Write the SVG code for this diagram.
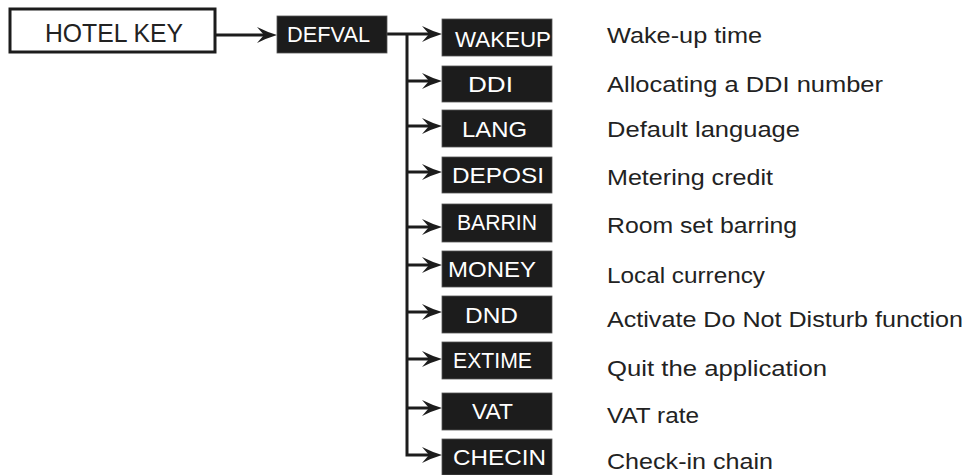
<svg xmlns="http://www.w3.org/2000/svg" width="966" height="475" viewBox="0 0 966 475">
<style>
.box{fill:#1c1c1c;stroke:#555;stroke-width:0.8}
.lbl{fill:#fff;font-family:"Liberation Sans",Arial,sans-serif;font-size:22px}
.desc{fill:#222;font-family:"Liberation Sans",Arial,sans-serif;font-size:22px}
.ln{fill:none;stroke:#1c1c1c;stroke-width:3}
</style>
<defs>
<marker id="arr" viewBox="-20 -8 20 16" refX="-10" refY="0" markerWidth="20" markerHeight="16" orient="auto" markerUnits="userSpaceOnUse">
<path d="M0,0 Q-10,-3 -20,-8 L-13,0 L-20,8 Q-10,3 0,0 Z" fill="#1c1c1c"/>
</marker>
</defs>
<g id="connectors">
<path class="ln" d="M216,35 H267" marker-end="url(#arr)"/>
<path class="ln" d="M387,34 H432" marker-end="url(#arr)"/>
<path class="ln" d="M407,34 V455 H432" marker-end="url(#arr)"/>
<path class="ln" d="M407,81 H432" marker-end="url(#arr)"/>
<path class="ln" d="M407,126 H432" marker-end="url(#arr)"/>
<path class="ln" d="M407,172 H432" marker-end="url(#arr)"/>
<path class="ln" d="M407,227 H432" marker-end="url(#arr)"/>
<path class="ln" d="M407,265 H432" marker-end="url(#arr)"/>
<path class="ln" d="M407,312 H432" marker-end="url(#arr)"/>
<path class="ln" d="M407,359 H432" marker-end="url(#arr)"/>
<path class="ln" d="M407,408 H432" marker-end="url(#arr)"/>
</g>
<g id="hotelkey">
<rect x="10" y="9" width="205" height="43" fill="#fff" stroke="#1c1c1c" stroke-width="3"/>
<text x="45" y="42" fill="#222" font-family="Liberation Sans, Arial, sans-serif" font-size="25" textLength="138" lengthAdjust="spacingAndGlyphs">HOTEL KEY</text>
</g>
<g id="defval">
<rect class="box" x="277" y="16" width="110" height="37"/>
<text class="lbl" x="287" y="42" font-size="23" textLength="83" lengthAdjust="spacingAndGlyphs">DEFVAL</text>
</g>
<g id="wakeup">
<rect class="box" x="442" y="19" width="110" height="37"/>
<text class="lbl" x="455" y="47" textLength="96" lengthAdjust="spacingAndGlyphs">WAKEUP</text>
<text class="desc" x="607" y="43" textLength="155" lengthAdjust="spacingAndGlyphs">Wake-up time</text>
</g>
<g id="ddi">
<rect class="box" x="442" y="66" width="110" height="36"/>
<text class="lbl" x="468" y="92" textLength="45" lengthAdjust="spacingAndGlyphs">DDI</text>
<text class="desc" x="607" y="92" textLength="276" lengthAdjust="spacingAndGlyphs">Allocating a DDI number</text>
</g>
<g id="lang">
<rect class="box" x="442" y="110" width="110" height="37"/>
<text class="lbl" x="462" y="137" textLength="65" lengthAdjust="spacingAndGlyphs">LANG</text>
<text class="desc" x="607" y="137" textLength="193" lengthAdjust="spacingAndGlyphs">Default language</text>
</g>
<g id="deposi">
<rect class="box" x="442" y="157" width="110" height="36"/>
<text class="lbl" x="452" y="183" textLength="92" lengthAdjust="spacingAndGlyphs">DEPOSI</text>
<text class="desc" x="607" y="185" textLength="166" lengthAdjust="spacingAndGlyphs">Metering credit</text>
</g>
<g id="barrin">
<rect class="box" x="442" y="204" width="110" height="38"/>
<text class="lbl" x="457" y="230" textLength="80" lengthAdjust="spacingAndGlyphs">BARRIN</text>
<text class="desc" x="607" y="233" textLength="190" lengthAdjust="spacingAndGlyphs">Room set barring</text>
</g>
<g id="money">
<rect class="box" x="442" y="251" width="110" height="36"/>
<text class="lbl" x="448" y="277" textLength="88" lengthAdjust="spacingAndGlyphs">MONEY</text>
<text class="desc" x="607" y="283" textLength="158" lengthAdjust="spacingAndGlyphs">Local currency</text>
</g>
<g id="dnd">
<rect class="box" x="442" y="296" width="110" height="37"/>
<text class="lbl" x="465" y="323" textLength="53" lengthAdjust="spacingAndGlyphs">DND</text>
<text class="desc" x="607" y="327" textLength="356" lengthAdjust="spacingAndGlyphs">Activate Do Not Disturb function</text>
</g>
<g id="extime">
<rect class="box" x="442" y="342" width="110" height="37"/>
<text class="lbl" x="453" y="368" textLength="79" lengthAdjust="spacingAndGlyphs">EXTIME</text>
<text class="desc" x="607" y="376" textLength="220" lengthAdjust="spacingAndGlyphs">Quit the application</text>
</g>
<g id="vat">
<rect class="box" x="442" y="393" width="110" height="37"/>
<text class="lbl" x="472" y="419" textLength="41" lengthAdjust="spacingAndGlyphs">VAT</text>
<text class="desc" x="607" y="423" textLength="92" lengthAdjust="spacingAndGlyphs">VAT rate</text>
</g>
<g id="checin">
<rect class="box" x="442" y="439" width="110" height="36"/>
<text class="lbl" x="453" y="465" textLength="93" lengthAdjust="spacingAndGlyphs">CHECIN</text>
<text class="desc" x="607" y="469" textLength="166" lengthAdjust="spacingAndGlyphs">Check-in chain</text>
</g>
</svg>
